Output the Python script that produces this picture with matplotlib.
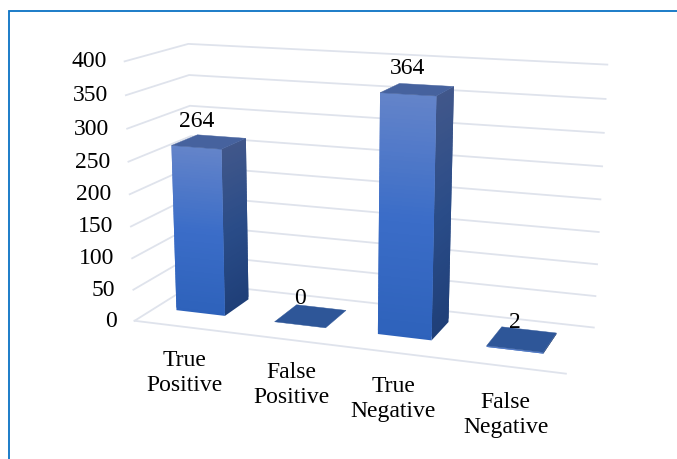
import numpy as np
import matplotlib.pyplot as plt
from matplotlib.collections import PolyCollection
from matplotlib.colors import LinearSegmentedColormap

categories = ['True\nPositive', 'False\nPositive', 'True\nNegative', 'False\nNegative']
values = [264, 0, 364, 2]
ticks = [0, 50, 100, 150, 200, 250, 300, 350, 400]

W, H = 677, 459
VMAX = 400.0
BAR_W = 0.50
BAR_D = (0.33, 0.76)
BAR_X = 0.47
LABEL_NUDGE = [(6, 3), (11, 3), (5, 4), (4, 6)]

# box corners (category pos, depth, value) and where they land on the canvas
box_world = [(0, 0, 0), (4, 0, 0), (4, 1, 0), (0, 1, 0),
             (0, 0, 400), (4, 1, 400), (0, 1, 400)]
box_canvas = [(136, 318), (566, 376), (594, 325), (193, 286),
              (123, 62), (607, 65), (190, 43)]


def fit_camera(world, canvas):
    rows = []
    for (x, d, v), (u, w) in zip(world, canvas):
        p = [x, d, v / VMAX, 1]
        rows.append(p + [0, 0, 0, 0] + [-u * c for c in p])
        rows.append([0, 0, 0, 0] + p + [-w * c for c in p])
    _, _, vt = np.linalg.svd(np.array(rows, dtype=float))
    return vt[-1].reshape(3, 4)


CAM = fit_camera(box_world, box_canvas)


def project(x, d, v):
    q = CAM @ np.array([x, d, v / VMAX, 1.0])
    return q[0] / q[2], q[1] / q[2]


front_cmap = LinearSegmentedColormap.from_list('front', ['#2e62bb', '#3b6dc8', '#6484c9'])
side_cmap = LinearSegmentedColormap.from_list('side', ['#1f3f78', '#2a4c88', '#41578a'])

fig = plt.figure(figsize=(W / 100, H / 100), dpi=100)
ax = fig.add_axes([0, 0, 1, 1])
ax.set_xlim(0, W)
ax.set_ylim(H, 0)
ax.axis('off')
plt.rcParams['font.family'] = ['Liberation Serif', 'DejaVu Serif']

# page frame
ax.plot([9, 9, W], [H, 10.5, 10.5], color='#0a72c4', lw=1.3, solid_joinstyle='miter')

# walls and floor
grid_c = '#dfe3ec'
for t in ticks:
    pts = [project(0, 0, t), project(0, 1, t), project(4, 1, t)]
    ax.plot(*zip(*pts), color=grid_c, lw=1.3, zorder=1)
    x0, y0 = project(0, 0, t)
    ax.text(x0 - 18, y0 + 0.5, str(t), ha='right', va='center', fontsize=17, color='black')
ax.plot(*zip(project(0, 0, 0), project(4, 0, 0)), color=grid_c, lw=1.3, zorder=1)


def strips(x0, d0, x1, d1, val, cmap, n=60):
    # painted bottom to top, each band overlaps the next so no seams show
    polys, cols = [], []
    for k in range(n):
        a, b = val * k / n, min(val, val * (k + 2) / n)
        polys.append([project(x0, d0, a), project(x1, d1, a),
                      project(x1, d1, b), project(x0, d0, b)])
        cols.append(cmap((k + 0.5) / n))
    return PolyCollection(polys, facecolors=cols, edgecolors='none', linewidths=0, zorder=3)


# bars
for i, (val, lab) in enumerate(zip(values, categories)):
    xl, xr = i + BAR_X - BAR_W / 2, i + BAR_X + BAR_W / 2
    d0, d1 = BAR_D
    if val > 0:
        ax.add_collection(strips(xr, d0, xr, d1, val, side_cmap))
        ax.add_collection(strips(xl, d0, xr, d0, val, front_cmap))
    top_c = '#46629e' if val > 10 else '#2e5698'
    top = [project(xl, d0, val), project(xr, d0, val), project(xr, d1, val), project(xl, d1, val)]
    ax.fill(*zip(*top), color=top_c, lw=0.3, zorder=4)

    # value floats above the front edge of the top face
    tx, ty = project(i + BAR_X, d0, val)
    ax.text(tx, ty - 26, str(val), ha='center', va='center', fontsize=17, color='black', zorder=5)

    # category name below the front edge
    cx, cy = project(i + 0.5, 0, 0)
    ax.text(cx - 5 + LABEL_NUDGE[i][0], cy + 20 + LABEL_NUDGE[i][1], lab, ha='center', va='top',
            fontsize=17, color='black', linespacing=1.25, multialignment='center')

fig.savefig('out.png', dpi=100)
